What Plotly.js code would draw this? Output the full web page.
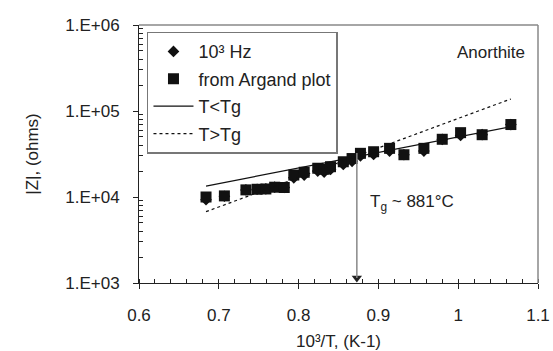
<!DOCTYPE html>
<html>
<head>
<meta charset="utf-8">
<script src="https://cdn.plot.ly/plotly-3.0.1.min.js"></script>
<style>html,body{margin:0;padding:0;background:#fff;}#chart{width:553px;height:351px;}</style>
</head>
<body>
<div id="chart"></div>
<script>
// Inverse temperature, 10^3/T (K^-1)
var invT = [0.684, 0.707, 0.734, 0.748, 0.759, 0.770, 0.782, 0.794, 0.807, 0.824, 0.832, 0.840, 0.856, 0.867, 0.8775, 0.894, 0.914, 0.932, 0.957, 0.980, 1.003, 1.030, 1.066];
// |Z| at 10^3 Hz (ohms)
var z1kHz = [9300, 10200, 12100, 12300, 12400, 13000, 12900, 16700, 18000, 20000, 19500, 20900, 23900, 26000, 30000, 31200, 34200, 31000, 34200, 46900, 52000, 53000, 69600];
// |Z| from Argand plot (ohms)
var zArgand = [10000, 10300, 12100, 12300, 12400, 13000, 12900, 18000, 19400, 21600, 21000, 22500, 25700, 28000, 32200, 33600, 36800, 31000, 36800, 46900, 56000, 53000, 69600];
// Fit lines (end points)
var fitLowX = [0.684, 1.066];
var fitLowY = [13400, 65600];   // T<Tg
var fitHighX = [0.684, 1.066];
var fitHighY = [6750, 138000];  // T>Tg
// Glass transition marker
var tgX = [0.873];
var tgTop = 32500;
var tgArrowTip = [1140];
var tgLabel = 'T<sub>g</sub> ~ 881°C';
var sampleLabel = 'Anorthite';
var yTickVals = [1e3, 1e4, 1e5, 1e6];
var yTickText = ['1.E+03', '1.E+04', '1.E+05', '1.E+06'];
var xTickVals = [0.6, 0.7, 0.8, 0.9, 1.0, 1.1];
var xTickText = ['0.6', '0.7', '0.8', '0.9', '1', '1.1'];

var yMinor = [];
for (var d = 3; d < 6; d++) { for (var m = 2; m <= 9; m++) { yMinor.push(m * Math.pow(10, d)); } }

var FONT = 'Liberation Sans, Arial, sans-serif';
var TXT = '#222';

var traces = [
  {x: invT, y: z1kHz, type: 'scatter', mode: 'markers', name: '10³ Hz',
   legendgroup: 'a', marker: {symbol: 'diamond', size: 9, color: '#111'}},
  {x: invT, y: zArgand, type: 'scatter', mode: 'markers', name: 'from Argand plot',
   legendgroup: 'b', marker: {symbol: 'square', size: 11, color: '#111'}},
  {x: fitLowX, y: fitLowY, type: 'scatter', mode: 'lines', name: 'T<Tg',
   legendgroup: 'c', line: {color: '#111', width: 1.2}},
  {x: fitHighX, y: fitHighY, type: 'scatter', mode: 'lines', name: 'T>Tg',
   legendgroup: 'd', line: {color: '#111', width: 1.2, dash: 'dot'}},
  {x: tgX, y: tgArrowTip, type: 'scatter', mode: 'markers', showlegend: false, cliponaxis: false,
   hoverinfo: 'skip', marker: {symbol: 'triangle-down', size: 9, color: '#222'}}
];

var layout = {
  width: 553, height: 351,
  margin: {l: 139, r: 15, t: 25, b: 68},
  paper_bgcolor: '#fff', plot_bgcolor: '#fff',
  font: {family: FONT, size: 17, color: TXT},
  showlegend: true,
  legend: {x: 0.02, y: 0.974, xanchor: 'left', yanchor: 'top',
           bgcolor: '#fff', bordercolor: '#777', borderwidth: 1.5,
           font: {family: FONT, size: 18, color: TXT},
           traceorder: 'grouped', tracegroupgap: 1, itemwidth: 40},
  xaxis: {
    range: [0.6, 1.1], showgrid: false, zeroline: false,
    showline: true, linecolor: '#222', linewidth: 1,
    tickmode: 'array', tickvals: xTickVals, ticktext: xTickText,
    ticks: 'outside', ticklen: 5, tickcolor: '#222', tickwidth: 1,
    ticklabelstandoff: 12,
    tickfont: {family: FONT, size: 17, color: TXT},
    minor: {dtick: 0.02, tick0: 0.6, ticks: 'inside', ticklen: 4, tickcolor: '#222', showgrid: false},
    title: {text: '10³/T, (K-1)', font: {family: FONT, size: 17, color: TXT}, standoff: 10}
  },
  yaxis: {
    type: 'log', range: [3, 6], showgrid: false, zeroline: false,
    showline: true, linecolor: '#222', linewidth: 1,
    tickmode: 'array', tickvals: yTickVals, ticktext: yTickText,
    ticks: 'outside', ticklen: 5, tickcolor: '#222', tickwidth: 1,
    ticklabelstandoff: 10,
    tickfont: {family: FONT, size: 17, color: TXT},
    minor: {tickmode: 'array', tickvals: yMinor, ticks: 'inside', ticklen: 4, tickcolor: '#222', showgrid: false},
    title: {text: '|Z|, (ohms)', font: {family: FONT, size: 17, color: TXT}, standoff: 22}
  },
  shapes: [
    {type: 'line', xref: 'paper', yref: 'paper', x0: 0, x1: 1, y0: 1, y1: 1, line: {color: '#888', width: 1.5}},
    {type: 'line', xref: 'paper', yref: 'paper', x0: 1, x1: 1, y0: 0, y1: 1, line: {color: '#888', width: 1.5}},
    {type: 'line', xref: 'x', yref: 'y', x0: tgX[0], x1: tgX[0], y0: tgTop, y1: tgArrowTip[0], line: {color: '#888', width: 1.5}}
  ],
  annotations: [
    {x: 0.887, y: 3.93, xref: 'x', yref: 'y', xanchor: 'left', yanchor: 'middle', showarrow: false,
     text: tgLabel, font: {family: FONT, size: 17, color: TXT}},
    {x: 1.086, y: 5.686, xref: 'x', yref: 'y', xanchor: 'right', yanchor: 'middle', showarrow: false,
     text: sampleLabel, font: {family: FONT, size: 17, color: TXT}}
  ]
};

Plotly.newPlot('chart', traces, layout, {displayModeBar: false, staticPlot: true});
</script>
</body>
</html>
